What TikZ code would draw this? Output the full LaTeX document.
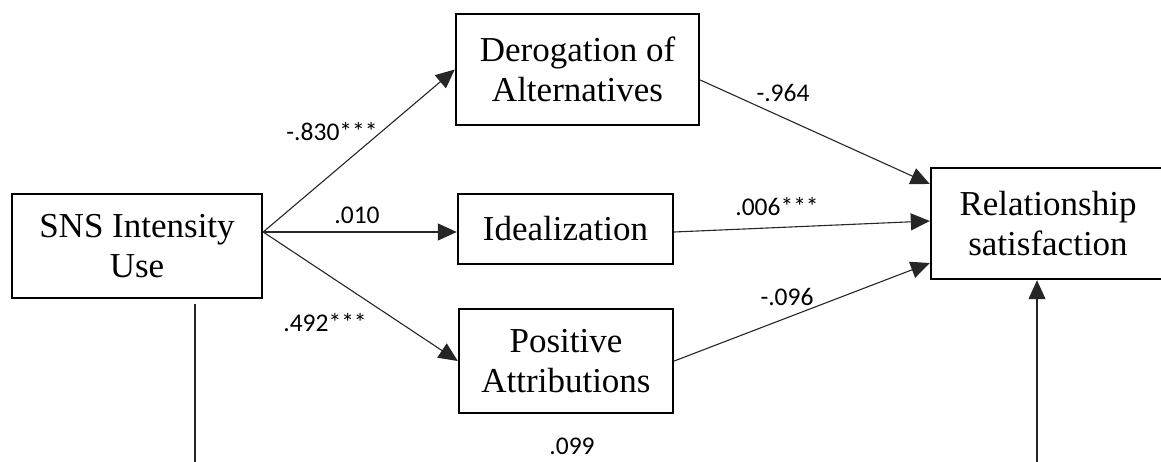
\documentclass[tikz,border=0pt]{standalone}
\usepackage{fontspec}
\setmainfont{Liberation Serif}
\newfontfamily\labfont{Carlito}
\usetikzlibrary{arrows.meta}
\begin{document}
\begin{tikzpicture}[x=1pt,y=-1pt,
  box/.style={draw=black,line width=2.4pt,rectangle,inner sep=0pt,align=center,
    font=\fontsize{35}{40}\selectfont},
  conn/.style={draw=black!85,line width=1.1pt},
  arr/.style={conn,-{Triangle[length=19pt,width=17pt]}},
  lab/.style={font=\labfont\fontsize{25.5}{28}\selectfont,inner sep=0pt}]
\useasboundingbox (0,0) rectangle (1161,462);
\clip (0,0) rectangle (1161,462);
\node[box,minimum width=250pt,minimum height=104pt] (sns) at (137,246) {SNS Intensity\\Use};
\node[box,minimum width=243pt,minimum height=111pt] (derog) at (577.5,69.5) {Derogation of\\Alternatives};
\node[box,minimum width=215pt,minimum height=70pt] (ideal) at (565.5,229) {Idealization};
\node[box,minimum width=214pt,minimum height=104pt] (pos) at (566,361) {Positive\\Attributions};
\node[box,minimum width=234pt,minimum height=111pt] (rel) at (1048,223.5) {Relationship\\satisfaction};
\coordinate (o) at ([yshift=14pt]sns.east);
\coordinate (b1) at (195,462);
\coordinate (b2) at (1037,462);
\draw[arr] (o) -- (derog.west);
\draw[arr] (o) -- ([yshift=-3pt]ideal.west);
\draw[arr] (o) -- (pos.west);
\draw[arr] ([yshift=-10.5pt]derog.east) -- ([yshift=39.5pt]rel.west);
\draw[arr] ([yshift=-3pt]ideal.east) -- ([yshift=2.5pt]rel.west);
\draw[arr] (pos.east) -- ([yshift=-39.5pt]rel.west);
\draw[conn] ([xshift=58pt,yshift=-5pt]sns.south) -- (b1);
\draw[arr] (b2) -- ([xshift=-11pt]rel.south);
\node[lab] (l1) at (332,132) {-.830***};
\node[lab] (l2) at (357,215) {.010};
\node[lab] (l3) at (325,323) {.492***};
\node[lab] (l4) at (783,93) {-.964};
\node[lab] (l5) at (777,207) {.006***};
\node[lab] (l6) at (787,297) {-.096};
\node[lab] (l7) at (572,446) {.099};
\end{tikzpicture}
\end{document}
